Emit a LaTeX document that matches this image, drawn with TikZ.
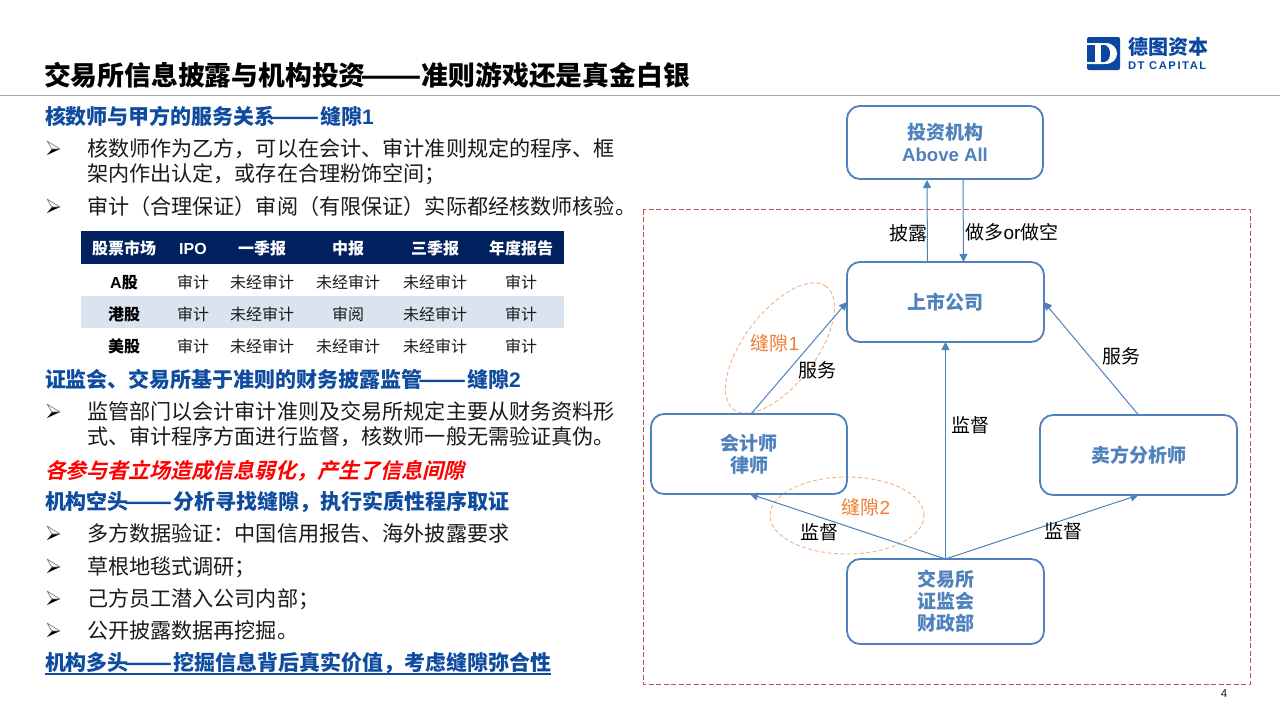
\documentclass[tikz,border=0pt]{standalone}
\usepackage{fontspec}
\usepackage{graphicx}
\setmainfont{Noto Sans CJK SC}
\newfontfamily\lat{Liberation Sans}
\newfontfamily\logolat{Liberation Sans}[LetterSpace=14]
\newfontface\redf{Noto Sans CJK SC Bold}[FakeSlant=0.24]
\usetikzlibrary{shapes.geometric,arrows.meta}
\definecolor{boxblue}{HTML}{4F81BD}
\definecolor{headblue}{HTML}{0F4C9F}
\definecolor{logoblue}{HTML}{0A47A1}
\definecolor{tnavy}{HTML}{002060}
\definecolor{trow}{HTML}{DAE3F0}
\definecolor{gaporange}{HTML}{ED7D31}
\definecolor{gapline}{HTML}{F4B183}
\definecolor{txt}{HTML}{1A1A1A}
\definecolor{framered}{HTML}{C0504D}
\newcommand\dd{\kern-.2em\scalebox{1.34}[1]{——}}
\tikzset{
  x=1pt,y=-1pt,
  every node/.style={inner sep=0pt,outer sep=0pt},
  headline/.style={text height=18.5pt,text depth=2.5pt,anchor=west,text=headblue,font=\fontsize{21}{25}\selectfont\bfseries},
  bodyline/.style={anchor=west,text=txt,font=\fontsize{21.12}{25}\selectfont,align=left},
  oneline/.style={bodyline,text height=18.5pt,text depth=2.5pt},
  bulletpic/.pic={
    \fill[black] (6,1) -- (-7,7) -- (-2,1) -- cycle;
    \draw[black!55,line width=0.6pt,line join=round] (-7,-7) -- (6,1) -- (-2,1) -- cycle;
  },
  flowbox/.style={draw=boxblue,line width=1.8pt,rounded corners=13pt,text=boxblue,align=center,
     font=\fontsize{19}{22}\selectfont\bfseries},
  flowarrow/.style={draw=boxblue,line width=1pt,-{Triangle[length=8pt,width=8pt]}},
  edgetext/.style={text height=16.7pt,text depth=2.3pt,text=black,font=\fontsize{19}{22}\selectfont},
  gaptext/.style={text height=16.7pt,text depth=2.3pt,text=gaporange,font=\fontsize{19}{22}\selectfont},
  gapring/.style={draw=gapline,line width=0.9pt,dash pattern=on 4pt off 2.5pt,ellipse},
  thead/.style={text height=14.1pt,text depth=1.9pt,text=white,font=\fontsize{16}{20}\selectfont\bfseries},
  tfirst/.style={text height=14.1pt,text depth=1.9pt,text=black,font=\fontsize{16}{20}\selectfont\bfseries},
  tcell/.style={text height=14.1pt,text depth=1.9pt,text=txt,font=\fontsize{16}{20}\selectfont},
}
\begin{document}
\begin{tikzpicture}
\useasboundingbox (0,0) rectangle (1280,720);
\fill[white] (0,0) rectangle (1280,720);
% title
\node[text height=23.6pt,text depth=3.2pt,anchor=west,text=black,font=\fontsize{26.8}{30}\selectfont\bfseries] (title) at (44,75) {交易所信息披露与机构投资\dd 准则游戏还是真金白银};
\draw[color=black!35,line width=1.2pt] (0,95.5) -- (1280,95.5);
% logo
\fill[logoblue,rounded corners=2pt] (1087,37) rectangle (1120,70);
\fill[white] (1087,43) -- (1105,43) .. controls (1113,43) and (1117,48) .. (1117,53.5) .. controls (1117,59) and (1113,64) .. (1105,64) -- (1087,64) -- cycle;
\fill[logoblue] (1087,45) -- (1095,45) -- (1095,62) -- (1087,62) -- cycle;
\fill[logoblue] (1101,45) -- (1104,45) .. controls (1108,45) and (1110,49) .. (1110,53.5) .. controls (1110,58) and (1108,62) .. (1104,62) -- (1101,62) -- cycle;
\node[text height=17.6pt,text depth=2.4pt,anchor=west,text=logoblue,font=\fontsize{20}{22}\selectfont\bfseries] (logocn) at (1128,46.5) {德图资本};
\node[text height=9pt,text depth=1pt,anchor=west,text=logoblue,font=\logolat\fontsize{11.2}{13}\selectfont\bfseries] (logoen) at (1128,65) {DT CAPITAL};
% left text
\node[headline] (h1) at (45,116) {核数师与甲方的服务关系\dd 缝隙{\lat 1}};
\pic at (54,148) {bulletpic};
\node[bodyline] (t1) at (87,161.5) {核数师作为乙方，可以在会计、审计准则规定的程序、框\\架内作出认定，或存在合理粉饰空间；};
\pic at (54,206) {bulletpic};
\node[oneline] (t2) at (87,206) {审计（合理保证）审阅（有限保证）实际都经核数师核验。};
% table
\fill[tnavy] (81,231) rectangle (564,264);
\fill[trow] (81,296) rectangle (564,328);
\foreach \nm/\cx/\tx in {a/124/股票市场,b/193/{\lat IPO},c/262/一季报,d/348/中报,e/435/三季报,f/521/年度报告}
  \node[thead] (th\nm) at (\cx,248) {\tx};
\node[tfirst] (ra) at (124,282) {{\lat A}股};
\node[tfirst] (rb) at (124,314) {港股};
\node[tfirst] (rc) at (124,346) {美股};
\foreach \rw/\ry/\mid in {a/282/未经审计,b/314/审阅,c/346/未经审计}{
  \node[tcell] (c\rw1) at (193,\ry) {审计};
  \node[tcell] (c\rw2) at (262,\ry) {未经审计};
  \node[tcell] (c\rw3) at (348,\ry) {\mid};
  \node[tcell] (c\rw4) at (435,\ry) {未经审计};
  \node[tcell] (c\rw5) at (521,\ry) {审计};
}
\node[headline] (h2) at (45,379) {证监会、交易所基于准则的财务披露监管\dd 缝隙{\lat 2}};
\pic at (54,411) {bulletpic};
\node[bodyline] (t3) at (87,424.5) {监管部门以会计审计准则及交易所规定主要从财务资料形\\式、审计程序方面进行监督，核数师一般无需验证真伪。};
\node[text height=18.5pt,text depth=2.5pt,anchor=west,text=red,font=\redf\fontsize{21}{25}\selectfont] (red1) at (45,470) {各参与者立场造成信息弱化，产生了信息间隙};
\node[headline] (h3) at (45,501) {机构空头\dd 分析寻找缝隙，执行实质性程序取证};
\pic at (54,533) {bulletpic};
\node[oneline] (t4) at (87,533) {多方数据验证：中国信用报告、海外披露要求};
\pic at (54,566) {bulletpic};
\node[oneline] (t5) at (87,566) {草根地毯式调研；};
\pic at (54,598) {bulletpic};
\node[oneline] (t6) at (87,598) {己方员工潜入公司内部；};
\pic at (54,630) {bulletpic};
\node[oneline] (t7) at (87,630) {公开披露数据再挖掘。};
\node[headline] (h4) at (45,662) {机构多头\dd 挖掘信息背后真实价值，考虑缝隙弥合性};
\draw[color=headblue,line width=1.2pt] (h4.west |- 0,674) -- (h4.east |- 0,674);
% diagram frame
\draw[color=framered,line width=0.9pt,dash pattern=on 5pt off 2.5pt] (643,209.5) rectangle (1250,684);
% gap rings
\node[gapring,minimum width=154pt,minimum height=72pt,rotate=53] (ring1) at (780,348) {};
\node[gapring,minimum width=154pt,minimum height=77pt] (ring2) at (847,515.5) {};
% boxes
\node[flowbox,minimum width=196pt,minimum height=73pt] (inv) at (945,142.5) {投资机构\\{\lat\fontsize{18.6}{22}\selectfont Above All}};
\node[flowbox,minimum width=197pt,minimum height=80pt] (lst) at (945.5,302) {上市公司};
\node[flowbox,minimum width=196pt,minimum height=80pt] (acc) at (749,454) {会计师\\律师};
\node[flowbox,minimum width=197pt,minimum height=80pt] (sell) at (1138.5,455) {卖方分析师};
\node[flowbox,minimum width=197pt,minimum height=85pt] (exch) at (945.5,601.5) {交易所\\证监会\\财政部};
% arrows
\draw[flowarrow] ([xshift=-18pt]lst.north) -- ([xshift=-18pt,yshift=-1pt]inv.south);
\draw[flowarrow] ([xshift=18pt]inv.south) -- ([xshift=18pt]lst.north);
\draw[flowarrow] (exch.north) -- (lst.south);
\draw[flowarrow] ([xshift=2pt]acc.north) -- (lst.west);
\draw[flowarrow] (sell.north) -- (lst.east);
\draw[flowarrow] (exch.north) -- ([xshift=1pt]acc.south);
\draw[flowarrow] (exch.north) -- (sell.south);
% labels
\node[edgetext] (l1) at (908,233) {披露};
\node[edgetext] (l2) at (1012,232) {做多{\lat or}做空};
\node[gaptext] (l3) at (775,343) {缝隙{\lat 1}};
\node[edgetext] (l4) at (817,370) {服务};
\node[edgetext] (l5) at (1121,356) {服务};
\node[edgetext] (l6) at (970,425) {监督};
\node[gaptext] (l7) at (866,507) {缝隙{\lat 2}};
\node[edgetext] (l8) at (819,532) {监督};
\node[edgetext] (l9) at (1063,531) {监督};
\node[text=txt,font=\lat\fontsize{11.5}{13}\selectfont] (pg) at (1224,694) {4};
\end{tikzpicture}
\end{document}
